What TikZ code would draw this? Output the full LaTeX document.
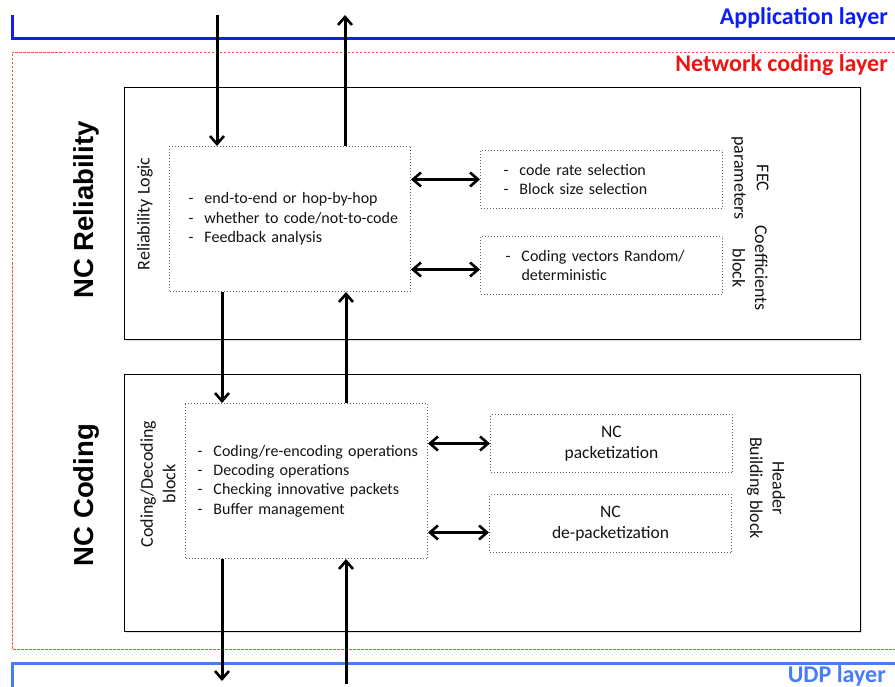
\documentclass[tikz,border=0pt]{standalone}
\usepackage{fontspec}
\setmainfont{Carlito}
\newfontfamily\titlefont{Liberation Sans}
\usetikzlibrary{arrows.meta,calc,shadows}
\definecolor{appblue}{RGB}{12,30,245}
\definecolor{ncred}{RGB}{238,20,20}
\definecolor{dashred}{RGB}{248,80,60}
\definecolor{udpblue}{RGB}{70,125,245}
\definecolor{txt}{RGB}{20,20,20}
\definecolor{dotgray}{RGB}{100,100,100}
\newcommand\dashitem[2]{\hspace*{#1}\makebox[16pt][l]{-}#2}
\begin{document}
\begin{tikzpicture}[x=1pt,y=-1pt,
  every node/.style={text=txt},
  layerlbl/.style={inner sep=0pt, anchor=base east, font=\fontsize{24}{28}\selectfont\bfseries},
  titlelbl/.style={inner sep=0pt, font=\titlefont\fontsize{27.5}{31}\selectfont\bfseries, text=black},
  sidelbl/.style={inner sep=0pt, font=\fontsize{18}{22.5}\selectfont},
  outerbox/.style={draw=black, line width=1.2pt, fill=white, anchor=north west, inner sep=0pt,
    drop shadow={shadow xshift=1.5pt, shadow yshift=-1.5pt, opacity=0.25}},
  dotbox/.style={draw=dotgray, dotted, line width=1pt, anchor=north west, inner sep=0pt},
  listbox/.style={dotbox, inner xsep=0pt, align=left, font=\fontsize{16}{19.3}\selectfont},
  pktbox/.style={dotbox, align=center, font=\fontsize{17.5}{20.5}\selectfont},
  barb/.tip={Straight Barb[length=8pt,width=14pt,line width=2.6pt]},
  arr/.style={line width=3pt, -barb},
  darr/.style={line width=3pt, barb-barb}
]
\useasboundingbox (0,0) rectangle (895,687);

% layers
\draw[appblue, line width=3pt] (12,15) -- (12,39) -- (897,39);
\draw[dashred, line width=0.9pt, dash pattern=on 2.5pt off 1.5pt] (898,52) -- (12,52) -- (12,649) -- (898,649);
\draw[udpblue, line width=3pt] (12,690) -- (12,663) -- (897,663);
\node[layerlbl, text=appblue] (applbl) at (888,25) {Application layer};
\node[layerlbl, text=ncred] (nclbl) at (888,72) {Network coding layer};
\node[layerlbl, text=udpblue] (udplbl) at (886,682) {UDP layer};

% outer boxes
\node[outerbox, minimum width=736pt, minimum height=252pt] (relbox) at (124,87) {};
\node[outerbox, minimum width=736pt, minimum height=257pt] (codbox) at (124,374) {};

\node[titlelbl, rotate=90] (reltitle) at (86,210) {NC Reliability};
\node[titlelbl, rotate=90] (codtitle) at (86,495) {NC Coding};

% side labels
\node[sidelbl, rotate=90] (rllbl) at (145,214) {Reliability Logic};
\node[sidelbl, rotate=90, align=center] (cdlbl) at (158,484) {Coding/Decoding\\block};
\node[sidelbl, rotate=-90, align=center] (feclbl) at (750,178) {FEC\\parameters};
\node[sidelbl, rotate=-90, align=center] (coeflbl) at (750,268) {Coefficients\\block};
\node[sidelbl, rotate=-90, align=center] (hdrlbl) at (766,488) {Header\\Building block};

% inner boxes
\node[listbox, text width=241pt, minimum height=145pt] (RL) at (169,146)
  {\dashitem{19pt}{end-to-end or hop-by-hop}\\
   \dashitem{19pt}{whether to code/not-to-code}\\
   \dashitem{19pt}{Feedback analysis}};
\node[listbox, text width=242pt, minimum height=58pt] (FEC) at (480,150)
  {\dashitem{23pt}{code rate selection}\\
   \dashitem{23pt}{Block size selection}};
\node[listbox, text width=242pt, minimum height=58pt] (Coef) at (480,236)
  {\dashitem{25pt}{Coding vectors Random/}\\
   \hspace*{41pt}deterministic};
\node[listbox, text width=242pt, minimum height=155pt] (CD) at (185,403)
  {\dashitem{12pt}{Coding/re-encoding operations}\\
   \dashitem{12pt}{Decoding operations}\\
   \dashitem{12pt}{Checking innovative packets}\\
   \dashitem{12pt}{Buffer management}};
\node[pktbox, minimum width=242pt, minimum height=58pt] (NCpack) at (490,414) {NC\\packetization};
\node[pktbox, minimum width=242pt, minimum height=58pt] (NCdepack) at (489,494) {NC\\de-packetization};

% connectors
\coordinate (appin) at (217,15);
\coordinate (appout) at (345,15);
\coordinate (xdown) at (222,0);
\coordinate (xup) at (346,0);
\coordinate (udpout) at (222,681);
\coordinate (udpin) at (346,684);
\draw[arr] (appin) -- (appin |- RL.north);
\draw[arr] (appout |- RL.north) -- (appout);
\draw[arr] (xdown |- RL.south) -- (xdown |- CD.north);
\draw[arr] (xup |- CD.north) -- (xup |- RL.south);
\draw[arr] (xdown |- CD.south) -- (udpout);
\draw[arr] (udpin) -- (xup |- CD.south);

\coordinate (c2) at ([yshift=-4pt]Coef.west);
\coordinate (c4) at ([yshift=-9pt]NCdepack.west);
\draw[darr] (RL.east |- FEC.west) -- (FEC.west);
\draw[darr] (RL.east |- c2) -- (c2);
\draw[darr] (CD.east |- NCpack.west) -- (NCpack.west);
\draw[darr] (CD.east |- c4) -- (c4);
\end{tikzpicture}
\end{document}
